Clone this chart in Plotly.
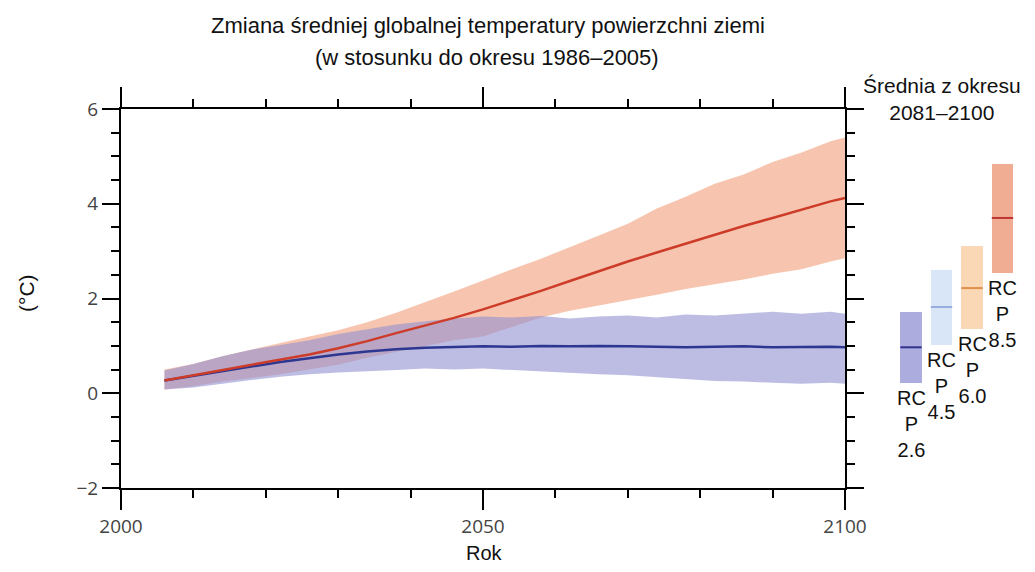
import plotly.graph_objects as go

# ---------------- data ----------------
years = [2006, 2010, 2014, 2018, 2022, 2026, 2030, 2034, 2038, 2042, 2046, 2050,
         2054, 2058, 2062, 2066, 2070, 2074, 2078, 2082, 2086, 2090, 2094, 2098, 2100]

rcp85_mean = [0.27, 0.38, 0.50, 0.60, 0.72, 0.82, 0.95, 1.10, 1.27, 1.43, 1.59, 1.77,
              1.96, 2.16, 2.37, 2.58, 2.78, 2.97, 3.16, 3.35, 3.53, 3.70, 3.88, 4.05, 4.12]
rcp85_high = [0.50, 0.62, 0.78, 0.92, 1.07, 1.20, 1.33, 1.50, 1.70, 1.92, 2.15, 2.38,
              2.62, 2.84, 3.08, 3.33, 3.58, 3.90, 4.15, 4.42, 4.62, 4.88, 5.08, 5.32, 5.40]
rcp85_low = [0.08, 0.15, 0.25, 0.32, 0.40, 0.50, 0.60, 0.75, 0.88, 1.00, 1.12, 1.20,
             1.40, 1.60, 1.74, 1.85, 1.96, 2.08, 2.20, 2.30, 2.40, 2.52, 2.62, 2.78, 2.85]

rcp26_mean = [0.27, 0.37, 0.47, 0.57, 0.66, 0.74, 0.82, 0.88, 0.93, 0.96, 0.98, 0.99,
              0.98, 1.00, 0.99, 1.00, 0.99, 0.98, 0.97, 0.98, 0.99, 0.97, 0.98, 0.98, 0.97]
rcp26_high = [0.48, 0.62, 0.78, 0.92, 1.02, 1.12, 1.25, 1.35, 1.45, 1.52, 1.58, 1.62,
              1.60, 1.63, 1.58, 1.62, 1.64, 1.60, 1.66, 1.64, 1.68, 1.72, 1.68, 1.72, 1.68]
rcp26_low = [0.08, 0.12, 0.20, 0.28, 0.35, 0.40, 0.44, 0.47, 0.49, 0.52, 0.50, 0.52,
             0.48, 0.45, 0.43, 0.40, 0.38, 0.33, 0.30, 0.26, 0.25, 0.22, 0.20, 0.22, 0.20]

# 2081-2100 averages
scenarios = ["RCP2.6", "RCP4.5", "RCP6.0", "RCP8.5"]
scen_labels = ["RC<br>P<br>2.6", "RC<br>P<br>4.5", "RC<br>P<br>6.0", "RC<br>P<br>8.5"]
avg_low = [0.21, 1.01, 1.35, 2.54]
avg_high = [1.71, 2.60, 3.11, 4.84]
avg_mean = [0.97, 1.82, 2.22, 3.70]

box_colors = ["rgb(172,172,222)", "rgb(216,230,248)", "rgb(250,216,182)", "rgb(241,172,148)"]
mean_colors = ["rgb(50,50,140)", "rgb(150,172,222)", "rgb(226,142,72)", "rgb(190,52,52)"]

# ---------------- layout helpers ----------------
# the page body has an 8px margin; the figure is sized to fit inside it
OFF = 8
W, H = 1035 - 2 * OFF, 572 - 2 * OFF
ML, MR, MT, MB = 121 - OFF, 0, 109 - OFF, H - (488 - OFF)
PW = W - ML - MR
PH = H - MT - MB


def px(xp):
    return (xp - OFF - ML) / PW


def py(yp):
    return (H - MB - (yp - OFF)) / PH


FONT = "Liberation Sans, Arial, sans-serif"
TICKFONT = dict(family="Open Sans, Liberation Sans, sans-serif", size=19, color="#444")

fig = go.Figure()

# bands
fig.add_trace(go.Scatter(
    x=years + years[::-1], y=rcp85_high + rcp85_low[::-1],
    fill="toself", mode="lines", line=dict(width=0),
    fillcolor="rgba(240,150,110,0.55)", hoverinfo="skip", showlegend=False))
fig.add_trace(go.Scatter(
    x=years + years[::-1], y=rcp26_high + rcp26_low[::-1],
    fill="toself", mode="lines", line=dict(width=0),
    fillcolor="rgba(145,145,210,0.6)", hoverinfo="skip", showlegend=False))
# mean lines
fig.add_trace(go.Scatter(x=years, y=rcp26_mean, mode="lines",
                         line=dict(color="rgb(45,55,145)", width=2.5), showlegend=False))
fig.add_trace(go.Scatter(x=years, y=rcp85_mean, mode="lines",
                         line=dict(color="rgb(205,60,40)", width=2.5), showlegend=False))

# 2081-2100 boxes
pos = list(range(len(scenarios)))
fig.add_trace(go.Bar(
    x=pos, y=[h - l for h, l in zip(avg_high, avg_low)], base=avg_low,
    width=0.7, marker=dict(color=box_colors, line=dict(width=0)),
    xaxis="x2", yaxis="y2", showlegend=False, hoverinfo="skip"))

shapes = []
for i, m in enumerate(avg_mean):
    shapes.append(dict(type="line", xref="x2", yref="y2", x0=i - 0.35, x1=i + 0.35,
                       y0=m, y1=m, line=dict(color=mean_colors[i], width=2)))

annotations = [
    dict(text="Zmiana średniej globalnej temperatury powierzchni ziemi",
         xref="paper", yref="paper", x=px(488), y=py(26), showarrow=False,
         xanchor="center", yanchor="middle", font=dict(family=FONT, size=22, color="#111")),
    dict(text="(w stosunku do okresu 1986–2005)",
         xref="paper", yref="paper", x=px(487), y=py(58), showarrow=False,
         xanchor="center", yanchor="middle", font=dict(family=FONT, size=22, color="#111")),
    dict(text="Średnia z okresu<br>2081–2100",
         xref="paper", yref="paper", x=px(942), y=py(99), showarrow=False,
         xanchor="center", yanchor="middle", font=dict(family=FONT, size=21, color="#111")),
    dict(text="Rok", xref="paper", yref="paper", x=px(484), y=py(553), showarrow=False,
         xanchor="center", yanchor="middle", font=dict(family=FONT, size=20, color="#111")),
    dict(text="(°C)", xref="paper", yref="paper", x=px(26), y=py(293), showarrow=False,
         textangle=-90, xanchor="center", yanchor="middle",
         font=dict(family=FONT, size=21, color="#111")),
]
for i, lab in enumerate(scen_labels):
    annotations.append(dict(text=lab, xref="x2", yref="y2", x=i, y=avg_low[i],
                            yshift=-2, showarrow=False, xanchor="center", yanchor="top",
                            font=dict(family=FONT, size=20, color="#111")))

axis_common = dict(showgrid=False, zeroline=False, showline=True, linecolor="black",
                   linewidth=2, ticks="outside", tickwidth=2, tickcolor="black",
                   mirror="ticks", tickfont=TICKFONT, automargin=False)

# box column position (pixels in reference): centres 911 ... 1002.5, spacing 30.5
X2_LEFT = 852 - OFF
X2_SPACING = 30.5
x2_start = -((911 - OFF) - X2_LEFT) / X2_SPACING
x2_end = x2_start + (W - X2_LEFT) / X2_SPACING

fig.update_layout(
    width=W, height=H,
    margin=dict(l=ML, r=MR, t=MT, b=MB, pad=0, autoexpand=False),
    paper_bgcolor="white", plot_bgcolor="white",
    xaxis=dict(domain=[0, 724 / PW], range=[2000, 2100], tick0=2000, dtick=50,
               ticklen=20, minor=dict(dtick=10, ticklen=8, tickwidth=1.5,
                                      ticks="outside", tickcolor="black"),
               **axis_common),
    yaxis=dict(range=[-2, 6], ticklen=17,
               tickvals=[-2, 0, 2, 4, 6], ticktext=["−2", "0", "2", "4", "6"],
               minor=dict(dtick=0.5, ticklen=8, tickwidth=1.5, ticks="outside",
                          tickcolor="black"),
               **axis_common),
    xaxis2=dict(domain=[(X2_LEFT - ML) / PW, 1.0], range=[x2_start, x2_end],
                visible=False, anchor="y2", automargin=False),
    yaxis2=dict(range=[-2, 6], visible=False, anchor="x2", automargin=False),
    shapes=shapes,
    annotations=annotations,
    bargap=0,
)

fig.write_html("out.html")
